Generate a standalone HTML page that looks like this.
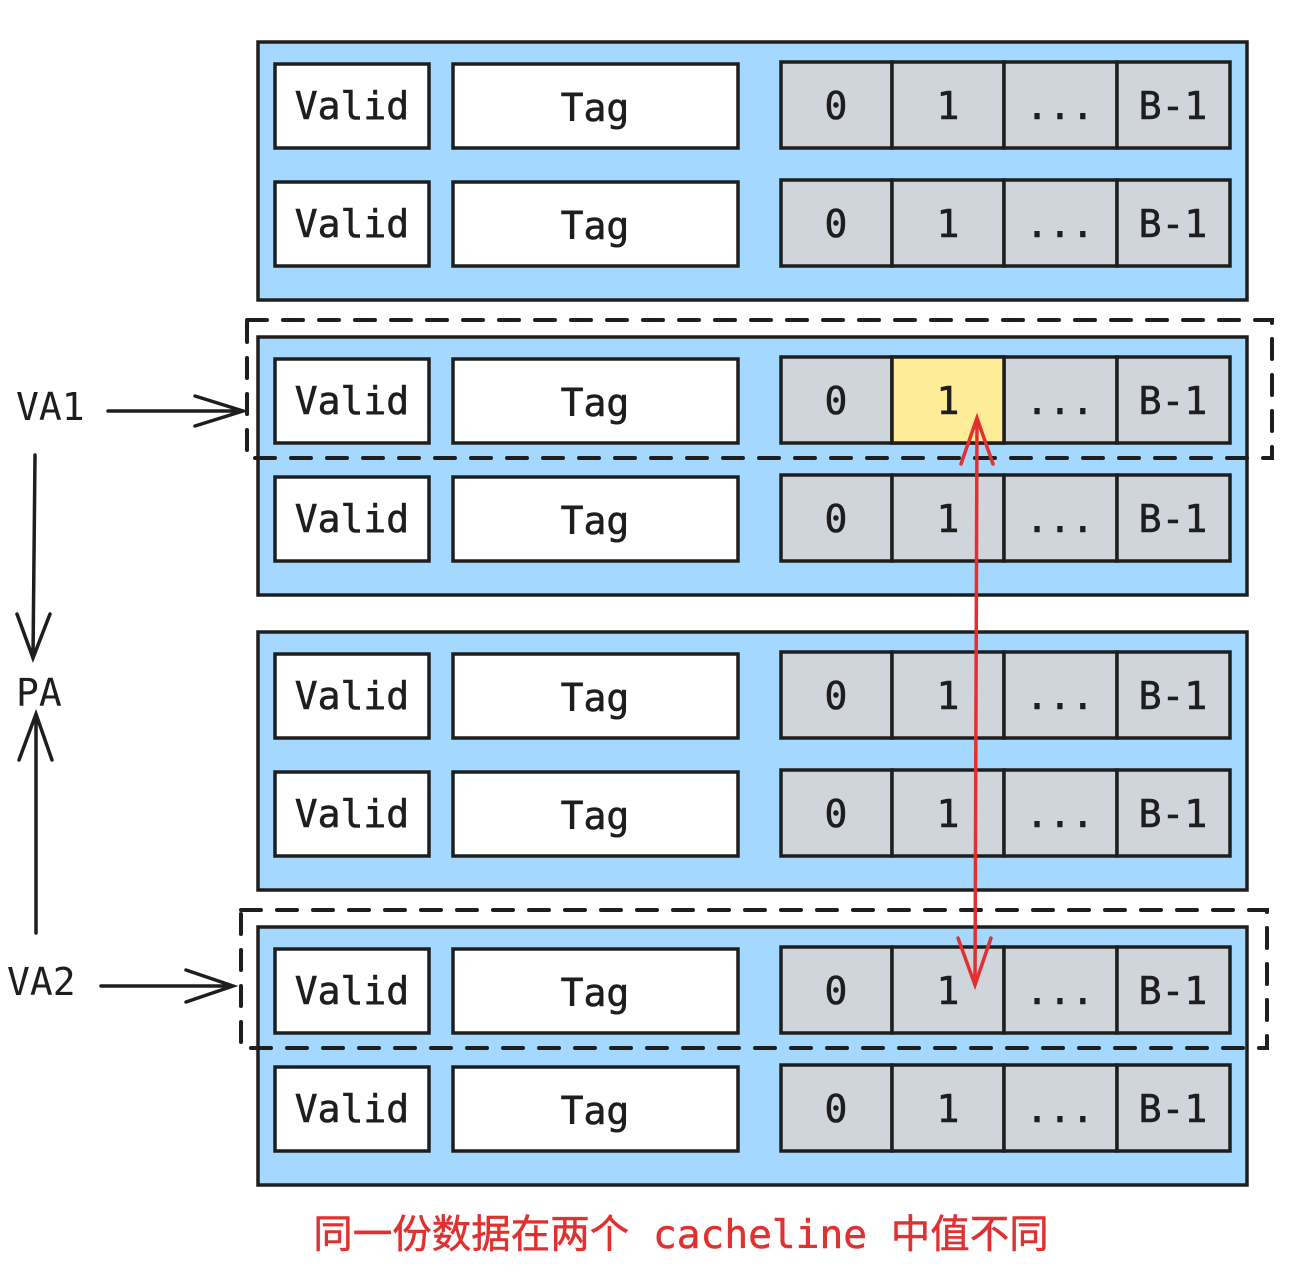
<!DOCTYPE html>
<html><head><meta charset="utf-8"><style>html,body{margin:0;padding:0;background:#fff}svg{display:block}</style></head>
<body>
<svg width="1310" height="1274" viewBox="0 0 1310 1274" xmlns="http://www.w3.org/2000/svg">
<defs>
<g id="rowshapes" stroke="#1e1e1e" stroke-width="3.5">
<rect x="275" y="64" width="154" height="84" fill="#fff"/>
<rect x="453" y="64" width="285" height="84" fill="#fff"/>
<rect x="781" y="62" width="111" height="86" fill="#d0d5dc"/>
<rect x="892" y="62" width="112" height="86" fill="#d0d5dc"/>
<rect x="1004" y="62" width="113" height="86" fill="#d0d5dc"/>
<rect x="1117" y="62" width="113" height="86" fill="#d0d5dc"/>
</g>
</defs>
<g stroke="#1e1e1e" stroke-width="3.5" fill="#a5d8ff">
<rect x="258" y="42" width="989" height="258"/>
<rect x="258" y="337" width="989" height="258"/>
<rect x="258" y="632" width="989" height="258"/>
<rect x="258" y="927" width="989" height="258"/>
</g>
<use href="#rowshapes" y="0"/><use href="#rowshapes" y="118"/>
<use href="#rowshapes" y="295"/><use href="#rowshapes" y="413"/>
<use href="#rowshapes" y="590"/><use href="#rowshapes" y="708"/>
<use href="#rowshapes" y="885"/><use href="#rowshapes" y="1003"/>
<rect x="892" y="357" width="112" height="86" fill="#ffec99" stroke="#1e1e1e" stroke-width="3.5"/>
<g font-family="'DejaVu Sans Mono','Liberation Mono',monospace" font-size="38" fill="#1e1e1e" text-anchor="middle" stroke="#1e1e1e" stroke-width="0.6">
<g transform="translate(0,0)"><text x="352" y="119">Valid</text><text x="595" y="121">Tag</text><text x="836" y="119">0</text><text x="948" y="119">1</text><text x="1060" y="119">...</text><text x="1173" y="119">B-1</text></g>
<g transform="translate(0,118)"><text x="352" y="119">Valid</text><text x="595" y="121">Tag</text><text x="836" y="119">0</text><text x="948" y="119">1</text><text x="1060" y="119">...</text><text x="1173" y="119">B-1</text></g>
<g transform="translate(0,295)"><text x="352" y="119">Valid</text><text x="595" y="121">Tag</text><text x="836" y="119">0</text><text x="948" y="119">1</text><text x="1060" y="119">...</text><text x="1173" y="119">B-1</text></g>
<g transform="translate(0,413)"><text x="352" y="119">Valid</text><text x="595" y="121">Tag</text><text x="836" y="119">0</text><text x="948" y="119">1</text><text x="1060" y="119">...</text><text x="1173" y="119">B-1</text></g>
<g transform="translate(0,590)"><text x="352" y="119">Valid</text><text x="595" y="121">Tag</text><text x="836" y="119">0</text><text x="948" y="119">1</text><text x="1060" y="119">...</text><text x="1173" y="119">B-1</text></g>
<g transform="translate(0,708)"><text x="352" y="119">Valid</text><text x="595" y="121">Tag</text><text x="836" y="119">0</text><text x="948" y="119">1</text><text x="1060" y="119">...</text><text x="1173" y="119">B-1</text></g>
<g transform="translate(0,885)"><text x="352" y="119">Valid</text><text x="595" y="121">Tag</text><text x="836" y="119">0</text><text x="948" y="119">1</text><text x="1060" y="119">...</text><text x="1173" y="119">B-1</text></g>
<g transform="translate(0,1003)"><text x="352" y="119">Valid</text><text x="595" y="121">Tag</text><text x="836" y="119">0</text><text x="948" y="119">1</text><text x="1060" y="119">...</text><text x="1173" y="119">B-1</text></g>
</g>
<g fill="none" stroke="#1e1e1e" stroke-width="4" stroke-dasharray="20 16" stroke-linecap="round">
<rect x="247" y="320" width="1025" height="138"/>
<rect x="241" y="910" width="1026" height="138"/>
</g>
<g font-family="'DejaVu Sans Mono','Liberation Mono',monospace" font-size="38" fill="#1e1e1e">
<text x="16" y="420">VA1</text>
<text x="16" y="706">PA</text>
<text x="7" y="995">VA2</text>
</g>
<g stroke="#1e1e1e" stroke-width="3.5" fill="none" stroke-linecap="round">
<path d="M108 411 L243 411 M195 396 L243 411 L195 426"/>
<path d="M35 455 L33 658 M17 614 L33 658 L50 614"/>
<path d="M36 933 L36 714 M19 760 L36 714 L52 760"/>
<path d="M101 986 L233 986 M186 970 L233 986 L186 1002"/>
</g>
<g stroke="#e03131" stroke-width="3.5" fill="none" stroke-linecap="round">
<path d="M977 418 L975 985 M961 464 L977 418 L993 464 M958 938 L975 985 L991 938"/>
</g>
<text x="681" y="1248" text-anchor="middle" font-family="'DejaVu Sans Mono','Noto Sans CJK SC',monospace" font-size="39.5" fill="#e03131" stroke="#e03131" stroke-width="0.5">同一份数据在两个 cacheline 中值不同</text>
</svg>
</body></html>
